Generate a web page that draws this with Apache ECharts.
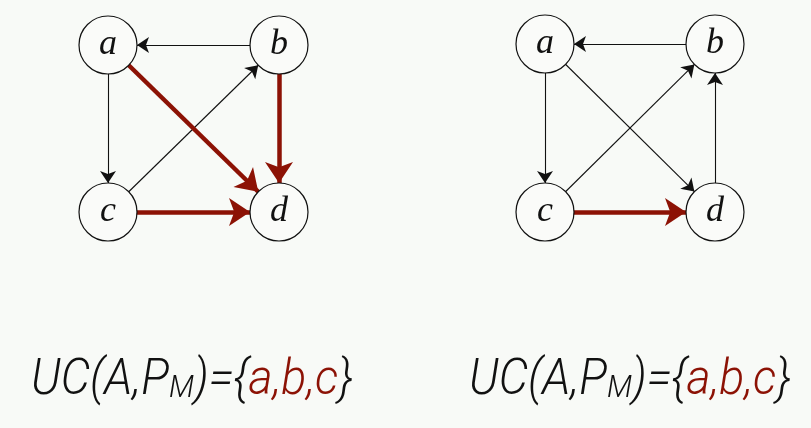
<!DOCTYPE html>
<html>
<head>
<meta charset="utf-8">
<script src="https://cdn.jsdelivr.net/npm/echarts@6/dist/echarts.min.js"></script>
<style>
  html, body { margin: 0; padding: 0; background: #f8faf7; }
  #chart-container { width: 811px; height: 428px; }
</style>
</head>
<body>
<div id="chart-container"></div>
<script>
// nodes of both graphs (column / row in a 2x2 square)
const nodeNames = ['a', 'b', 'c', 'd'];
const nodeCols = [0, 1, 0, 1];
const nodeRows = [1, 1, 0, 0];

// edges: plain ones and the highlighted (red) ones
const leftEdges = [['b', 'a'], ['a', 'c'], ['c', 'b']];
const leftRedEdges = [['a', 'd'], ['b', 'd'], ['c', 'd']];
const rightEdges = [['b', 'a'], ['a', 'c'], ['c', 'b'], ['a', 'd'], ['d', 'b']];
const rightRedEdges = [['c', 'd']];

// formula under each graph
const formulaHead = 'UC(A,P';
const formulaSub = 'M';
const formulaSet = ['a', 'b', 'c'];

const red = '#8c1205';
const ink = '#111111';

function buildNodes() {
    return nodeNames.map(function (n, i) {
        return { name: n, value: [nodeCols[i], nodeRows[i]] };
    });
}

function buildLinks(plain, highlighted) {
    const links = [];
    plain.forEach(function (e) {
        links.push({
            source: e[0], target: e[1],
            symbolSize: [1, 12],
            lineStyle: { color: ink, width: 1.1, opacity: 1 }
        });
    });
    highlighted.forEach(function (e) {
        links.push({
            source: e[0], target: e[1],
            symbolSize: [1, 21],
            lineStyle: { color: red, width: 4.5, opacity: 1 }
        });
    });
    return links;
}

function graphSeries(idx, plain, highlighted) {
    return {
        type: 'graph',
        coordinateSystem: 'cartesian2d',
        xAxisIndex: idx,
        yAxisIndex: idx,
        symbol: 'circle',
        symbolSize: 58,
        edgeSymbol: ['none', 'arrow'],
        itemStyle: { color: '#fafbf9', borderColor: ink, borderWidth: 1.2 },
        lineStyle: { opacity: 1 },
        label: {
            show: true,
            position: 'inside',
            color: ink,
            fontFamily: 'Liberation Serif',
            fontStyle: 'italic',
            fontSize: 36
        },
        emphasis: { disabled: true },
        silent: true,
        z: 3,
        data: buildNodes(),
        links: buildLinks(plain, highlighted)
    };
}

function formulaText(x) {
    return {
        type: 'text',
        x: x,
        y: 356,
        scaleX: 0.93,
        style: {
            text: formulaHead + '{s|' + formulaSub + '})={{r|' + formulaSet.join(',') + '}}',
            fontFamily: 'Roboto',
            fontWeight: 300,
            fontStyle: 'italic',
            fontSize: 50,
            fill: ink,
            rich: {
                s: { fontFamily: 'Roboto', fontWeight: 300, fontStyle: 'italic', fontSize: 32, fill: ink, padding: [16, 0, 0, 0] },
                r: { fontFamily: 'Roboto', fontWeight: 300, fontStyle: 'italic', fontSize: 50, fill: red }
            }
        }
    };
}

const dom = document.getElementById('chart-container');
const myChart = echarts.init(dom, null, { renderer: 'canvas' });

const axisX = { type: 'value', min: 0, max: 1, show: false };
const axisY = { type: 'value', min: 0, max: 1, show: false };

const option = {
    backgroundColor: '#f8faf7',
    animation: false,
    grid: [
        { left: 108, top: 45, width: 171, height: 167 },
        { left: 545, top: 44, width: 170, height: 168 }
    ],
    xAxis: [Object.assign({ gridIndex: 0 }, axisX), Object.assign({ gridIndex: 1 }, axisX)],
    yAxis: [Object.assign({ gridIndex: 0 }, axisY), Object.assign({ gridIndex: 1 }, axisY)],
    series: [
        graphSeries(0, leftEdges, leftRedEdges),
        graphSeries(1, rightEdges, rightRedEdges)
    ],
    graphic: [formulaText(31), formulaText(469)]
};

myChart.setOption(option);
</script>
</body>
</html>
